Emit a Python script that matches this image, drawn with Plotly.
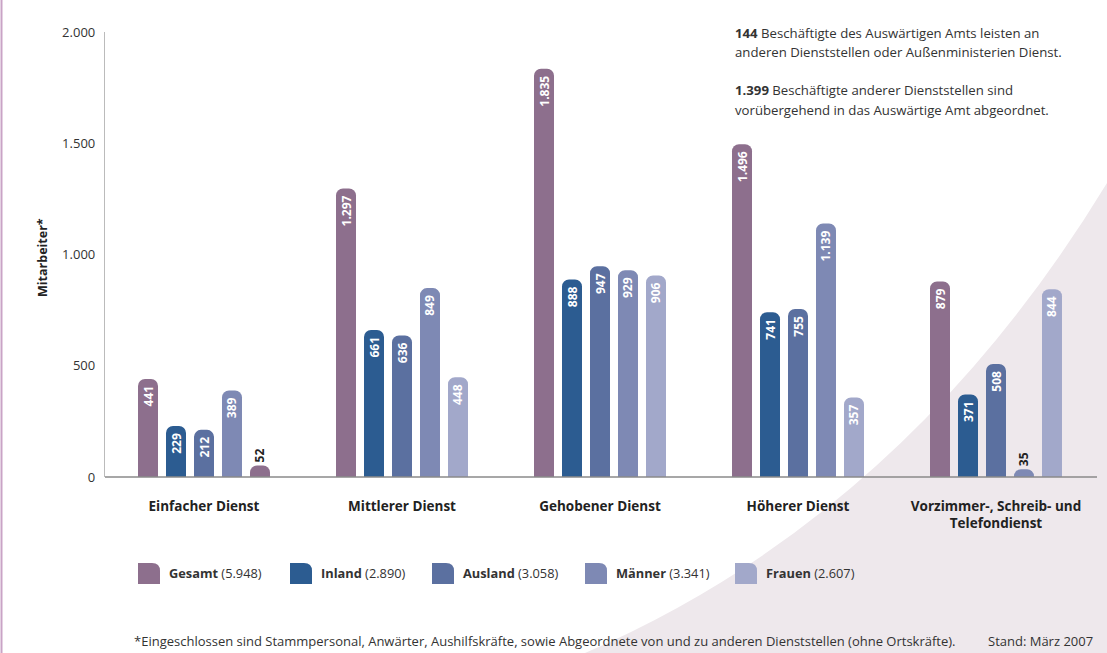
import plotly.graph_objects as go

# ---------------- data ----------------
categories = ["Einfacher Dienst", "Mittlerer Dienst", "Gehobener Dienst",
              "Höherer Dienst", "Vorzimmer-, Schreib- und<br>Telefondienst"]
series_names = ["Gesamt", "Inland", "Ausland", "Männer", "Frauen"]
gesamt = [441, 1297, 1835, 1496, 879]
inland = [229, 661, 888, 741, 371]
ausland = [212, 636, 947, 755, 508]
maenner = [389, 849, 929, 1139, 35]
frauen = [52, 448, 906, 357, 844]
y_ticks = [0, 500, 1000, 1500, 2000]
note_lines = [
    ("144", " Beschäftigte des Auswärtigen Amts leisten an"),
    ("", "anderen Dienststellen oder Außenministerien Dienst."),
    ("1.399", " Beschäftigte anderer Dienststellen sind"),
    ("", "vorübergehend in das Auswärtige Amt abgeordnet."),
]
footnote = "*Eingeschlossen sind Stammpersonal, Anwärter, Aushilfskräfte, sowie Abgeordnete von und zu anderen Dienststellen (ohne Ortskräfte)."
stand = "Stand: März 2007"

# ---------------- style ----------------
colors = ["#8D6F8D", "#2C5C91", "#5B70A0", "#7E89B4", "#A2A8CA"]
FONT = "Open Sans"
W, H = 1107, 653
L, R, T, B = 105, 12, 32, 176
PW, PH = W - L - R, H - T - B


def px(x):
    return (x - L) / PW


def py(y):
    return (H - B - y) / PH


def fmt(v):
    return f"{v:,}".replace(",", ".")


fig = go.Figure()
all_series = [gesamt, inland, ausland, maenner, frauen]
for i, (name, vals) in enumerate(zip(series_names, all_series)):
    bar_colors = [colors[i]] * len(vals)
    if name == "Frauen":
        bar_colors[0] = colors[0]  # as in the original chart
    positions = ["outside" if v < 100 else "inside" for v in vals]
    fig.add_trace(go.Bar(
        name=name, x=categories, y=vals,
        marker=dict(color=bar_colors, line=dict(width=0), cornerradius=7),
        text=[fmt(v) for v in vals], textposition=positions,
        textangle=-90, insidetextanchor="end",
        insidetextfont=dict(color="white", size=12, family=FONT, weight="bold"),
        outsidetextfont=dict(color="#222222", size=12, family=FONT, weight="bold"),
        cliponaxis=False, showlegend=False, hoverinfo="x+y",
    ))

shapes = []
# background curve
shapes.append(dict(
    type="path", xref="paper", yref="paper", layer="below",
    path=f"M {px(585)} {py(653)} Q {px(905)} {py(515)} {px(1107)} {py(183)} "
         f"L {px(1107)} {py(653)} Z",
    fillcolor="#EEE8EC", line=dict(width=0)))
# left border line
shapes.append(dict(type="line", xref="paper", yref="paper",
                   x0=px(1.5), x1=px(1.5), y0=py(0), y1=py(653),
                   line=dict(color="#C9A3C6", width=2)))
# x baseline
shapes.append(dict(type="line", xref="paper", yref="paper",
                   x0=px(105), x1=px(1097), y0=0, y1=0,
                   line=dict(color="#8A8A8A", width=1.3)))

annotations = []
# legend
leg_x = [138, 290, 432, 585, 735]
totals = [sum(v) for v in all_series]
for i, name in enumerate(series_names):
    x0, x1 = leg_x[i], leg_x[i] + 22
    y0, y1 = 584, 563
    r = 8
    shapes.append(dict(
        type="path", xref="paper", yref="paper",
        path=(f"M {px(x0)} {py(y0)} L {px(x0)} {py(y1)} L {px(x1 - r)} {py(y1)} "
              f"Q {px(x1)} {py(y1)} {px(x1)} {py(y1 + r)} L {px(x1)} {py(y0)} Z"),
        fillcolor=colors[i], line=dict(width=0)))
    annotations.append(dict(
        xref="paper", yref="paper", x=px(x1 + 7), y=py(573),
        xanchor="left", yanchor="middle", showarrow=False,
        text=f"<b>{name}</b> ({fmt(totals[i])})",
        font=dict(family=FONT, size=12.8, color="#333333")))

# notes top-right
note_y = [33, 52, 90, 110]
for (bold, rest), yy in zip(note_lines, note_y):
    txt = (f"<b>{bold}</b>" if bold else "") + rest
    annotations.append(dict(
        xref="paper", yref="paper", x=px(733), y=py(yy),
        xanchor="left", yanchor="middle", showarrow=False, text=txt,
        font=dict(family=FONT, size=13.2, color="#333333")))

# axis title
annotations.append(dict(
    xref="paper", yref="paper", x=px(42), y=py(258), textangle=-90,
    xanchor="center", yanchor="middle", showarrow=False,
    text="<b>Mitarbeiter*</b>", font=dict(family=FONT, size=12.5, color="#222222")))

# footnote
annotations.append(dict(
    xref="paper", yref="paper", x=px(132), y=py(641),
    xanchor="left", yanchor="middle", showarrow=False, text=footnote,
    font=dict(family=FONT, size=13, color="#333333")))
annotations.append(dict(
    xref="paper", yref="paper", x=px(1095), y=py(641),
    xanchor="right", yanchor="middle", showarrow=False, text=stand,
    font=dict(family=FONT, size=13, color="#333333")))

fig.update_layout(
    width=W, height=H,
    margin=dict(l=L, r=R, t=T, b=B, pad=0),
    paper_bgcolor="white", plot_bgcolor="rgba(0,0,0,0)",
    barmode="group", bargap=0.293, bargroupgap=0.286,
    separators=",.",
    font=dict(family=FONT, color="#333333"),
    shapes=shapes, annotations=annotations,
    uniformtext=dict(mode="show", minsize=12),
)
fig.update_xaxes(
    range=[-0.5, 4.5], showgrid=False, zeroline=False, showline=False,
    ticks="", tickvals=list(range(len(categories))),
    ticktext=[f"<b>{c}</b>" for c in categories],
    tickfont=dict(family=FONT, size=13.5, color="#222222"),
    ticklabelstandoff=19, tickangle=0,
)
fig.update_yaxes(
    range=[0, 2000], showgrid=False, zeroline=False,
    showline=True, linecolor="#BBBBBB", linewidth=1.3,
    ticks="", tickvals=y_ticks, tickformat=",",
    tickfont=dict(family=FONT, size=13, color="#333333"),
    ticklabelstandoff=6,
)

fig.write_html("out.html")
